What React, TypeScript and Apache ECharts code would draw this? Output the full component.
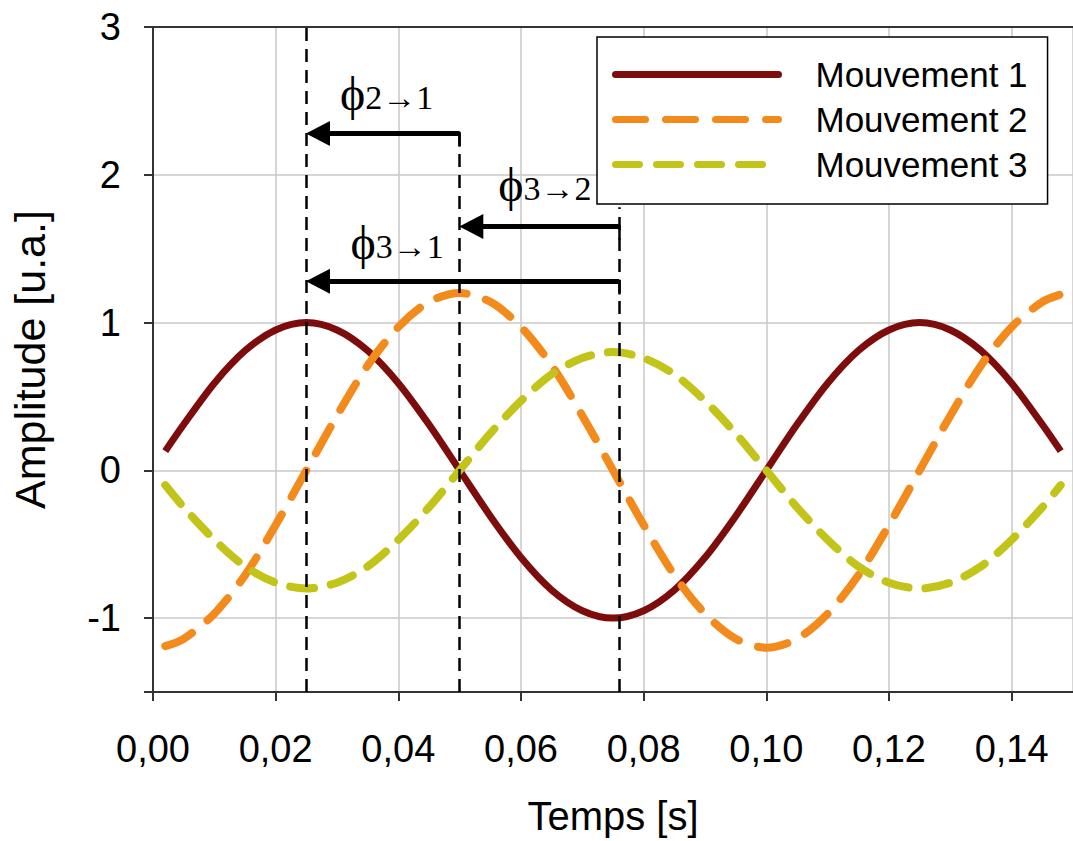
import React, { useEffect, useRef } from "react";
import * as echarts from "echarts";

const times = [
  0.002, 0.005, 0.01, 0.015, 0.02, 0.025, 0.03, 0.035, 0.04, 0.045, 0.05,
  0.055, 0.06, 0.065, 0.07, 0.075, 0.08, 0.085, 0.09, 0.095, 0.1,
  0.105, 0.11, 0.115, 0.12, 0.125, 0.13, 0.135, 0.14, 0.145, 0.148,
];
const mouvement1 = [
  0.13, 0.31, 0.59, 0.81, 0.95, 1.0, 0.95, 0.81, 0.59, 0.31, 0.0,
  -0.31, -0.59, -0.81, -0.95, -1.0, -0.95, -0.81, -0.59, -0.31, 0.0,
  0.31, 0.59, 0.81, 0.95, 1.0, 0.95, 0.81, 0.59, 0.31, 0.13,
];
const mouvement2 = [
  -1.19, -1.14, -0.97, -0.71, -0.37, 0.0, 0.37, 0.71, 0.97, 1.14, 1.2,
  1.14, 0.97, 0.71, 0.37, 0.0, -0.37, -0.71, -0.97, -1.14, -1.2,
  -1.14, -0.97, -0.71, -0.37, 0.0, 0.37, 0.71, 0.97, 1.14, 1.19,
];
const mouvement3 = [
  -0.1, -0.25, -0.47, -0.65, -0.76, -0.8, -0.76, -0.65, -0.47, -0.25, 0.0,
  0.25, 0.47, 0.65, 0.76, 0.8, 0.76, 0.65, 0.47, 0.25, 0.0,
  -0.25, -0.47, -0.65, -0.76, -0.8, -0.76, -0.65, -0.47, -0.25, -0.1,
];
const seriesNames = ["Mouvement 1", "Mouvement 2", "Mouvement 3"];
const seriesColors = ["#7d0c0c", "#f28a1c", "#c3c41a"];
const yTickValues = [-1.5, -1, 0, 1, 2, 3];
const yLabelValues = [-1, 0, 1, 2, 3];

// phase markers (time, top value of the dashed vertical line)
const markerTimes = [0.025, 0.05, 0.076];
const markerTops = [3, 2.29, 1.78];
// arrows: from (right) -> to (left, arrow head), at level y
const arrowFrom = [0.05, 0.076, 0.076];
const arrowTo = [0.025, 0.05, 0.025];
const arrowLevel = [2.28, 1.65, 1.28];
// phase labels
const phaseSubs = ["2→1", "3→2", "3→1"];
const phaseX = [0.0305, 0.0563, 0.0322];
const phaseY = [2.39, 1.77, 1.38];

export default function App() {
  const ref = useRef<HTMLDivElement>(null);
  useEffect(() => {
    document.body.style.margin = "0";
    const chart = echarts.init(ref.current!, null, { renderer: "svg" });
    const font = "Liberation Sans, Arial, sans-serif";
    const serif = "Liberation Serif, Times New Roman, serif";
    const headOffset = 0.0019;
    const markData: any[] = [];
    markerTimes.forEach((t, i) => {
      markData.push([
        { coord: [t, -1.5] },
        { coord: [t, markerTops[i]] },
      ]);
    });
    arrowFrom.forEach((f, i) => {
      markData.push([
        { coord: [f, arrowLevel[i] - 0.09], lineStyle: { type: "solid", width: 2.5 } },
        { coord: [f, arrowLevel[i] + 0.01] },
      ]);
      markData.push([
        { coord: [f, arrowLevel[i]], lineStyle: { type: "solid", width: 5 }, symbol: "none" },
        { coord: [arrowTo[i] + headOffset, arrowLevel[i]], symbol: "triangle", symbolSize: [25, 24] },
      ]);
    });

    const option: any = {
      animation: false,
      textStyle: { fontFamily: font },
      grid: { left: 153, right: -5, top: 27, bottom: 148 },
      legend: {
        data: seriesNames,
        orient: "vertical",
        left: 597,
        top: 37,
        padding: [20, 20, 22, 15],
        borderColor: "#000",
        borderWidth: 1.5,
        backgroundColor: "#fff",
        itemWidth: 163,
        itemHeight: 14,
        itemGap: 10,
        itemStyle: { opacity: 0 },
        lineStyle: { width: 7, cap: "round" },
        textStyle: {
          fontSize: 35,
          fontFamily: font,
          color: "#000",
          padding: [0, 0, 0, 32],
          lineHeight: 35,
        },
      },
      xAxis: [
        {
          type: "value",
          min: 0,
          max: 0.15,
          interval: 0.02,
          axisLine: { show: true, onZero: false, lineStyle: { color: "#333", width: 2 } },
          axisTick: { show: true, length: 9, lineStyle: { color: "#333", width: 2 } },
          axisLabel: {
            fontSize: 38,
            color: "#000",
            margin: 38,
            showMaxLabel: false,
            formatter: (v: number) => (v > 0.145 ? "" : v.toFixed(2).replace(".", ",")),
          },
          splitLine: { show: true, lineStyle: { color: "#c8c8c8", width: 1.5 } },
          name: "Temps [s]",
          nameLocation: "middle",
          nameGap: 104,
          nameTextStyle: { fontSize: 40, color: "#000" },
        },
        {
          type: "value",
          position: "top",
          min: 0,
          max: 0.15,
          axisLine: { show: true, onZero: false, lineStyle: { color: "#333", width: 2 } },
          axisTick: { show: false },
          axisLabel: { show: false },
          splitLine: { show: false },
        },
      ],
      yAxis: {
        type: "value",
        min: -1.5,
        max: 3,
        interval: 0.5,
        axisLine: { show: true, onZero: false, lineStyle: { color: "#333", width: 2 } },
        axisTick: {
          show: true,
          length: 9,
          customValues: yTickValues,
          lineStyle: { color: "#333", width: 2 },
        },
        axisLabel: {
          fontSize: 38,
          color: "#000",
          margin: 32,
          customValues: yLabelValues,
          formatter: (v: number) => String(v),
        },
        splitLine: { show: true, lineStyle: { color: "#c8c8c8", width: 1.5 } },
        name: "Amplitude [u.a.]",
        nameLocation: "middle",
        nameGap: 102,
        nameTextStyle: { fontSize: 43, color: "#000" },
      },
      series: [
        {
          name: seriesNames[0],
          type: "line",
          smooth: 0.3,
          showSymbol: false,
          symbol: "none",
          data: times.map((t, i) => [t, mouvement1[i]]),
          lineStyle: { color: seriesColors[0], width: 7 },
          itemStyle: { color: seriesColors[0] },
        },
        {
          name: seriesNames[1],
          type: "line",
          smooth: 0.3,
          showSymbol: false,
          symbol: "none",
          data: times.map((t, i) => [t, mouvement2[i]]),
          lineStyle: { color: seriesColors[1], width: 8, type: [30, 20], cap: "round" },
          itemStyle: { color: seriesColors[1] },
        },
        {
          name: seriesNames[2],
          type: "line",
          smooth: 0.3,
          showSymbol: false,
          symbol: "none",
          data: times.map((t, i) => [t, mouvement3[i]]),
          lineStyle: { color: seriesColors[2], width: 8, type: [24, 17], cap: "round" },
          itemStyle: { color: seriesColors[2] },
        },
        {
          name: "annotations",
          type: "line",
          data: [[0.025, 1]],
          showSymbol: false,
          symbol: "none",
          lineStyle: { width: 0 },
          z: 5,
          markLine: {
            silent: true,
            animation: false,
            symbol: ["none", "none"],
            label: { show: false },
            emphasis: { disabled: true },
            lineStyle: { color: "#000", type: [13, 8], width: 2.5, opacity: 1 },
            itemStyle: { color: "#000" },
            data: markData,
          },
        },
      ],
    };
    chart.setOption(option);

    const graphics = phaseSubs.map((s, i) => {
      const p = chart.convertToPixel({ gridIndex: 0 }, [phaseX[i], phaseY[i]]) as number[];
      return {
        type: "text",
        x: p[0],
        y: p[1],
        z: 10,
        style: {
          text: "{phi|ϕ}{sub|" + s + "}",
          fill: "#000",
          align: "left",
          verticalAlign: "bottom",
          rich: {
            phi: { fontSize: 48, fontFamily: serif, verticalAlign: "bottom", fill: "#000" },
            sub: { fontSize: 34, fontFamily: serif, verticalAlign: "bottom", fill: "#000", padding: [0, 0, 3, 0] },
          },
        },
      };
    });
    chart.setOption({ graphic: graphics });

    return () => chart.dispose();
  }, []);
  return <div ref={ref} style={{ width: 1073, height: 841 }} />;
}
